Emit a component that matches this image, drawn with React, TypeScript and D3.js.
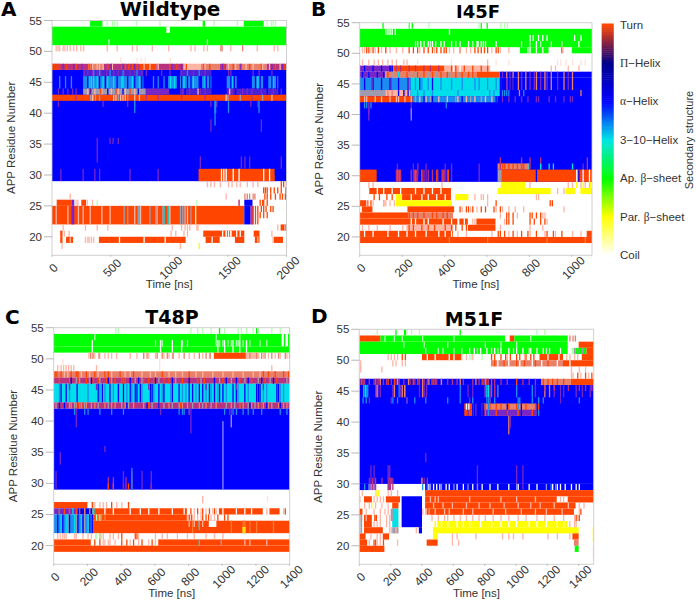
import React from "react";
import * as d3 from "d3";

type Run = [number, number, string, number, number];
type Spike = [number, number, string, number[]];

const stateLabels = ["Coil", "Par. β−sheet", "Ap. β−sheet", "3−10−Helix", "α−Helix", "Π−Helix", "Turn"];
const paletteStops = ["#ffffff", "#ffff00", "#00ff00", "#00e5e5", "#0000ff", "#00008b", "#ff4500"];
const stateColors: Record<string, string> = {
  t: "#ff4500", p: "#ffb4a4", f: "#ffe2da", a: "#0000ff", l: "#1e8cf0", c: "#00e0ea",
  v: "#7828c8", m: "#b83080", s: "#e8806a", g: "#00ff00", q: "#b4ffb4", y: "#ffff00",
  e: "#a09cb0", w: "#ffffff", o: "#ff7a30", b: "#8a8aff", n: "#4a20d8",
};

const wtRuns: Run[] = [
  [51, 54, "g", 0, 2000], [53, 54, "w", 975, 1005],
  [54, 55, "g", 325, 430], [54, 55, "g", 1285, 1305], [54, 55, "g", 1635, 1805],
  [29, 47, "a", 0, 2000],
  [47, 48, "m", 0, 310], [47, 48, "s", 310, 440], [47, 48, "m", 440, 750], [47, 48, "t", 750, 890], [47, 48, "m", 890, 1130],
  [47, 48, "p", 1130, 1270], [47, 48, "s", 1270, 1430], [47, 48, "m", 1430, 1490], [47, 48, "s", 1490, 1830], [47, 48, "m", 1830, 2000],
  [46, 47, "n", 265, 780], [46, 47, "n", 1090, 1360],
  [42, 43, "t", 0, 2000],
  [44, 46, "l", 265, 780], [44, 46, "l", 990, 1065], [44, 46, "l", 1090, 1260], [44, 46, "l", 1280, 1360],
  [44, 46, "l", 1490, 1575], [44, 46, "l", 1705, 1800], [44, 46, "l", 1845, 1930],
  [43, 44, "e", 265, 800], [43, 44, "v", 800, 1000], [43, 44, "n", 1090, 1360], [43, 44, "n", 1490, 1930],
  [29, 31, "t", 1250, 1900], [30, 31, "a", 1900, 2000],
  [25, 26, "t", 40, 170], [25, 26, "v", 170, 190], [25, 26, "t", 250, 290], [25, 26, "a", 1640, 1710],
  [22, 25, "t", 0, 1640], [22, 25, "a", 1640, 1690], [22, 25, "v", 1690, 1720],
  [22, 25, "v", 165, 190], [20, 21, "t", 70, 90], [20, 21, "t", 1290, 1640], [20, 21, "t", 1720, 1770],
  [19, 20, "t", 70, 90], [19, 20, "t", 120, 180], [19, 20, "t", 400, 1140], [19, 20, "t", 1310, 1430], [19, 20, "t", 1560, 1640],
  [19, 20, "t", 1730, 1770], [19, 20, "t", 1890, 1970], [21, 22, "t", 1950, 2000],
  [18, 19, "y", 1250, 1262],
];
const wtSpikes: Spike[] = [
  [54, 55, "q", [465, 510, 525, 550, 715, 915, 1377, 1575, 1830, 1865, 1880, 1900]],
  [51, 52, "q", [480, 1320]], [50, 51, "p", [30, 45, 60, 90, 105, 125, 150, 180, 205, 240, 265, 465, 550, 680, 720, 850, 990, 1180, 1215, 1290, 1320, 1520, 1745, 1890, 1920]],
  [50, 51, "s", [1435, 1445, 1620]], [48, 49, "f", [580, 720, 755, 790, 1005]],
  [47, 48, "t", [0, 15, 30, 45, 60, 120, 200, 310, 330, 470, 590, 620, 650, 680, 720, 1000, 1060, 1140, 1290, 1340, 1460, 1540, 1610, 1680, 1780, 1900, 1980]],
  [47, 48, "p", [340, 380, 400, 430, 510, 780, 830, 900, 1120, 1170, 1200, 1240, 1300, 1500, 1560, 1650, 1710, 1790, 1850, 1940]],
  [47, 48, "v", [90, 180, 250, 500, 600, 700, 1020, 1100, 1450, 1600, 1870, 1960]],
  [46, 47, "v", [270, 300, 340, 380, 410, 460, 520, 560, 610, 660, 700, 760, 800, 930, 1000, 1100, 1200, 1300, 1500, 1520, 1710, 1760, 1870]],
  [46, 47, "l", [350, 400, 490, 600, 720, 1150, 1250]],
  [44, 46, "c", [310, 330, 350, 380, 430, 470, 520, 590, 600, 680, 740, 1005, 1040, 1120, 1200, 1300, 1530, 1750, 1880]],
  [44, 46, "a", [300, 400, 450, 550, 640, 700, 760, 1080, 1150, 1250, 1100, 1180, 1310, 1340, 1520, 1550, 1730, 1770, 1870, 1910]],
  [44, 46, "l", [60, 110, 160, 860, 900, 950]],
  [43, 44, "v", [50, 90, 130, 170, 200, 850, 930, 1110, 1170, 1260, 1300, 1500, 1530, 1620, 1660, 1700, 1780, 1880, 1950]],
  [43, 44, "p", [300, 360, 420, 500, 560, 620, 700, 1240, 1510]], [43, 44, "a", [320, 470, 600, 730, 1130, 1560, 1830]], [43, 44, "t", [330, 410, 540, 660]],
  [42, 43, "e", [325, 345, 365, 400, 520, 560, 640, 1480, 1495, 1600, 1790]],
  [42, 43, "p", [340, 520, 540, 580, 600, 620, 700, 740, 1480, 1870]], [42, 43, "m", [200, 800, 900, 1100, 1300, 1700]],
  [41, 42, "v", [50, 430, 640, 700, 1350, 1400, 1690, 1750]],
  [40, 42, "l", [700, 1385, 1390, 1500, 1760]], [38, 42, "l", [1385]], [37, 39, "v", [1350, 1780]],
  [35, 36, "v", [490, 515, 560]], [32, 36, "v", [380]],
  [31, 33, "v", [1260, 1610, 1640, 1680, 1950]], [29, 31, "v", [70, 260, 360, 400, 660, 900]],
  [29, 31, "w", [1440, 1460, 1480, 1540, 1590, 1800, 1850]],
  [28, 29, "p", [1320, 1350, 1380, 1430, 1500, 1530, 1570, 1600, 1660, 1710, 1750, 1990]], [28, 29, "t", [1950, 1970]],
  [27, 28, "t", [1800, 1815, 1830, 1860, 1890, 1920, 1950, 1990]],
  [26, 27, "t", [1810, 1830, 1860, 1900, 1940, 1960, 1985]], [26, 27, "s", [1640, 1660, 1680, 1710, 1725]], [26, 27, "p", [150, 1480]],
  [25, 26, "t", [1770, 1790, 1800, 1830]], [25, 26, "p", [200, 215, 295, 340, 1590]], [25, 26, "q", [380, 1230]], [25, 26, "m", [1590]],
  [24, 25, "t", [1780, 1800, 1820, 1860, 1880]], [23, 24, "t", [1770, 1800, 1830]], [22, 25, "t", [1700, 1730, 1750]],
  [22, 25, "p", [30, 130, 220, 260, 320, 420, 490, 700, 750, 890, 1000, 1130, 1150]],
  [22, 25, "e", [610, 640, 730, 740, 830, 880, 940, 1090, 1110, 1130, 1180]],
  [22, 25, "c", [740, 950, 985]], [22, 25, "q", [1220]],
  [21, 22, "p", [90, 280, 380, 470, 1020, 1100, 1130, 1150, 1170, 1230, 1240, 1920, 1980]],
  [20, 21, "p", [100, 140, 1010, 1050, 1120, 1150, 1480, 1520, 1870]], [20, 21, "w", [1450, 1480, 1500, 1520, 1570, 1600]],
  [19, 20, "p", [150, 280, 300, 310, 330, 350, 1750, 1880]], [19, 20, "w", [570, 780, 960, 1360, 1440]],
  [18, 19, "p", [80, 1090]],
];

const i45Runs: Run[] = [
  [51, 54, "g", 0, 1095], [50, 51, "g", 755, 890], [50, 51, "g", 1000, 1095],
  [47, 48, "v", 0, 160], [47, 48, "t", 160, 400], [47, 48, "p", 400, 615],
  [29, 46, "a", 0, 1095], [46, 47, "a", 660, 1095],
  [46, 47, "v", 0, 120], [46, 47, "s", 120, 550], [46, 47, "t", 550, 660],
  [44, 46, "l", 0, 240], [44, 46, "c", 240, 660],
  [43, 44, "e", 0, 120], [43, 44, "p", 120, 240], [43, 44, "c", 240, 660],
  [42, 43, "t", 0, 250], [42, 43, "l", 250, 650],
  [29, 31, "t", 0, 80], [31, 32, "s", 650, 800], [29, 31, "t", 670, 1010], [29, 31, "e", 650, 670], [29, 31, "t", 1010, 1095],
  [28, 29, "y", 665, 780], [27, 28, "y", 650, 900], [27, 28, "y", 970, 1015], [27, 28, "y", 1040, 1095],
  [27, 28, "t", 45, 430], [26, 27, "y", 170, 200], [26, 27, "t", 200, 430], [26, 27, "y", 450, 512],
  [25, 26, "t", 0, 30], [25, 26, "y", 170, 435],
  [24, 25, "t", 10, 60], [24, 25, "t", 225, 445], [23, 24, "t", 0, 230], [23, 24, "s", 230, 440],
  [22, 23, "t", 0, 460], [22, 23, "t", 470, 510], [22, 23, "t", 550, 640], [21, 22, "t", 510, 640], [21, 22, "p", 220, 440],
  [20, 21, "t", 0, 440], [20, 21, "t", 1070, 1095], [19, 20, "t", 0, 1095],
];
const i45Spikes: Spike[] = [
  [54, 55, "g", [107, 230, 245, 570, 598]], [54, 55, "q", [228, 323, 560, 662, 680, 693]],
  [53, 54, "w", [120, 130, 140, 150, 165, 420]], [52, 53, "w", [800, 815, 840, 860, 880, 1010, 1040]],
  [51, 52, "w", [270, 285, 300, 320, 340, 355, 380, 395, 430, 470, 510, 550, 555, 570, 580, 590, 640, 830, 1030]],
  [51, 52, "q", [260, 330, 450, 530, 760, 800, 850, 900, 950]],
  [50, 51, "t", [30, 40, 60, 85, 120, 230, 250, 270, 300, 320, 340, 360, 380, 395, 405, 470, 540, 555, 570, 585, 600, 640, 650, 950]],
  [50, 51, "p", [10, 20, 50, 70, 100, 140, 170, 200, 280, 350, 420, 440, 470, 500, 520, 620, 660, 700, 955]],
  [50, 51, "w", [790, 800, 830, 860]],
  [48, 49, "p", [10, 40, 65, 85, 105, 130, 150, 170, 205, 220, 600]], [48, 49, "f", [270, 430, 640, 700, 930, 945, 970, 1000, 1040, 1060]],
  [47, 48, "p", [900, 920, 980, 1030]], [47, 48, "a", [20, 60, 100, 140, 150]],
  [47, 48, "m", [170, 190, 230, 260, 300, 330, 370]], [47, 48, "w", [440, 470]], [47, 48, "t", [430, 450, 490, 530, 570, 600]],
  [46, 47, "a", [10, 40, 80, 110]], [46, 47, "t", [130, 180, 220, 270, 300, 340, 380, 410, 450, 480, 510, 530]], [46, 47, "c", [180, 260, 420]], [46, 47, "e", [150, 240, 320, 360, 460]],
  [44, 47, "s", [690, 720, 745, 780, 830, 870, 900, 960, 1000]], [44, 47, "v", [670, 705, 760, 800, 820, 850, 880, 930, 980]],
  [44, 46, "a", [20, 60, 100, 140, 180, 225, 280, 340]], [44, 46, "v", [55, 145, 225, 670, 690]],
  [44, 46, "l", [260, 290, 320, 380, 430, 480, 540, 560, 600, 640]], [44, 46, "a", [670, 680, 700, 720]],
  [43, 44, "s", [130, 150, 180, 210, 750, 1040]], [43, 44, "a", [180, 205, 225]], [43, 44, "l", [270, 300, 340, 460, 610, 630]], [43, 44, "l", [670, 680, 690, 700, 770]],
  [42, 43, "p", [20, 30, 70, 100, 140, 170, 180, 210, 240, 280, 310, 370, 410, 460, 500, 540, 590, 620]],
  [42, 43, "e", [260, 330, 450, 520, 570]], [42, 43, "v", [670, 700, 730, 760, 790, 830, 840, 890, 920, 960, 990, 1000]], [42, 43, "a", [300, 340, 480, 640]],
  [41, 42, "l", [20, 30, 50, 405]], [40, 42, "v", [40, 240]], [39, 42, "v", [40]], [39, 41, "b", [240]],
  [30, 32, "m", [270]], [29, 32, "v", [175, 250, 270, 310, 400, 430, 560, 1050]],
  [29, 31, "m", [170, 180, 190, 240, 255, 265, 290, 300, 320, 340, 365, 385, 395, 410, 415]], [29, 31, "t", [175, 185, 260, 290, 360, 390, 415]],
  [31, 33, "m", [660, 760, 800, 850, 1070]], [31, 32, "t", [670, 680, 700, 720, 740, 760, 770]], [31, 32, "c", [790, 850, 890, 910, 1000]],
  [29, 31, "w", [1020, 1050, 1080]], [29, 31, "a", [830, 1030]],
  [28, 29, "p", [40, 60, 385, 800, 980, 1000, 1040, 1060, 1080]], [28, 29, "y", [1020, 1050, 1085]],
  [27, 28, "w", [80, 110, 150, 190, 260, 300, 340, 380]], [27, 28, "p", [930, 960]],
  [26, 27, "t", [65, 90, 125, 150]], [26, 27, "w", [240, 290, 320, 360, 400]], [26, 27, "p", [540, 570, 580, 600, 830, 840]],
  [25, 26, "t", [35, 50, 110, 640, 895, 905]], [25, 26, "p", [30, 60, 110, 120, 140, 160, 600]],
  [24, 25, "t", [470, 500, 510, 530, 570, 590, 630, 660]], [24, 25, "p", [480, 520, 550, 640, 670, 700, 730, 770, 960]],
  [23, 24, "t", [230, 250, 270, 300, 340, 360, 390, 410, 690, 700, 720, 800, 810, 830, 850]], [23, 24, "p", [660, 740, 860, 870]],
  [22, 23, "w", [240, 260, 300, 320, 390, 430]], [22, 23, "t", [700, 690, 720, 800, 820, 850, 870]], [22, 23, "p", [530, 540, 680, 880]], [22, 23, "w", [490, 510]],
  [21, 22, "t", [230, 250, 290, 320, 350, 400, 430, 450, 480, 500]], [21, 22, "p", [10, 40, 80, 140, 200, 660, 800, 860]],
  [20, 21, "w", [20, 60, 130, 180, 220, 260, 310, 370, 400, 430]], [20, 21, "t", [650, 660, 680, 720, 760, 790, 830, 880, 910, 950]], [20, 21, "p", [460, 500, 620, 700, 740, 800, 870, 920, 1000, 1040]],
  [19, 20, "o", [420, 600, 880, 1060]],
];

const t48Runs: Run[] = [
  [51, 52, "g", 0, 1400], [52, 54, "g", 0, 1352],
  [50, 51, "t", 950, 1140], [50, 51, "p", 1140, 1220],
  [47, 48, "s", 0, 1400], [46, 47, "m", 0, 1400], [43, 46, "c", 0, 1400], [42, 43, "m", 0, 1400], [29, 42, "a", 0, 1400],
  [26, 27, "t", 0, 200],
  [25, 26, "v", 0, 140], [25, 26, "a", 140, 230], [25, 26, "t", 230, 790], [25, 26, "t", 980, 1240], [25, 26, "t", 1280, 1340],
  [22, 25, "l", 0, 230], [24, 25, "t", 230, 790], [22, 24, "t", 230, 1400], [23, 24, "w", 920, 965], [19, 20, "t", 0, 1400],
  [20, 21, "t", 0, 220], [20, 21, "t", 620, 1400],
];
const t48Spikes: Spike[] = [
  [54, 55, "q", [365, 380, 810, 850, 880, 930, 980, 1010, 1090, 1110, 1140, 1180, 1210, 1290, 1340, 1395]], [54, 55, "g", [980, 1200]],
  [53, 54, "q", [240, 960, 1100, 1370]], [52, 53, "q", [600, 640, 760, 790, 960, 980, 1000, 1030, 1050, 1080, 1090, 1120, 1140, 1160, 1220, 1260, 1370]],
  [51, 53, "w", [225, 630, 700, 755, 970, 1010, 1060, 1100, 1140]], [52, 54, "g", [1365, 1390]],
  [50, 51, "p", [205, 225, 240, 270, 300, 320, 340, 370, 450, 490, 530, 560, 600, 650, 680, 700, 740, 800, 830, 880, 920, 1240, 1270, 1310, 1340, 1380]],
  [50, 51, "s", [215, 230, 265, 530, 550, 610, 640, 670, 705, 770, 860, 900, 925, 1160, 1200, 1230, 1250, 1290, 1330, 1370, 1395]],
  [48, 49, "p", [20, 40, 55, 70, 85, 100, 115, 250, 1290]], [49, 50, "f", [50]], [48, 50, "f", [625]],
  [47, 48, "t", [5, 15, 40, 100, 130, 140, 190, 240, 300, 320, 390, 470, 640, 800, 1240, 1270, 1310, 1360, 1390]],
  [47, 48, "p", [60, 80, 160, 210, 260, 340, 420, 450, 520, 570, 600, 680, 720, 760, 840, 880, 940, 1000, 1060, 1120, 1180, 1220]],
  [46, 47, "t", [30, 90, 140, 190, 230, 260, 310, 330, 360, 400, 410, 420, 530, 560, 590, 650, 680, 760, 850, 890, 1000, 1100, 1170, 1250, 1320]],
  [46, 47, "e", [130, 150, 210, 270, 340, 480, 520, 620, 720, 870, 980, 1050, 1130, 1210, 1280, 1380, 1395]],
  [46, 47, "a", [100, 220, 320, 450, 500, 600, 700, 800, 950, 1020, 1080, 1150, 1230, 1300]],
  [43, 46, "a", [40, 70, 135, 260, 285, 330, 380, 410, 450, 480, 490, 510, 570, 580, 620, 650, 700, 740, 800, 820, 860, 880, 920, 950, 980, 1000, 1060, 1080, 1130, 1200, 1210, 1220, 1320, 1330]],
  [43, 46, "l", [30, 90, 200, 270, 300, 350, 430, 460, 520, 590, 640, 690, 760, 780, 840, 900, 930, 970, 1020, 1090, 1150, 1240, 1260, 1340, 1360]],
  [45, 46, "v", [90, 250, 560, 900, 1080, 1240]],
  [42, 43, "e", [10, 90, 120, 150, 180, 220, 260, 320, 400, 440, 530, 580, 650, 700, 740, 820, 880, 930, 1020, 1070, 1100, 1150, 1190, 1240, 1290, 1360, 1395]],
  [42, 43, "s", [100, 130, 160, 190, 240, 300, 340, 360, 420, 470, 560, 620, 680, 760, 790, 860, 900, 960, 1050, 1120, 1170, 1210, 1270, 1330, 1380]],
  [42, 43, "a", [30, 60, 430, 550, 620, 1160, 1260, 1340]], [42, 43, "t", [145, 170, 560, 750, 1100, 1230]],
  [41, 42, "l", [120, 180, 200, 270, 340, 410, 740, 760, 770, 800, 1010, 1060, 1080, 1120, 1150, 1180, 1230, 1340, 1380]], [41, 42, "v", [130, 630, 800, 1040]],
  [39, 42, "v", [130, 1050]], [38, 42, "v", [810]], [39, 41, "b", [1050]],
  [35, 36, "v", [300]], [33, 35, "v", [35]], [29, 40, "b", [1000]],
  [29, 31, "m", [320, 350, 425, 460]], [29, 30, "t", [320, 350, 410, 440, 575]], [29, 32, "v", [10, 410, 460, 520, 575]], [29, 32.5, "l", [460]],
  [27, 28, "f", [880, 1265]], [26.8, 28, "p", [880]],
  [26, 27, "p", [230, 240, 270, 290, 310, 370, 400, 440]], [26, 27, "t", [225, 340, 440]],
  [25, 26, "c", [30, 110, 230, 235]], [25, 26, "t", [30, 60, 90, 130, 150, 180, 810, 850, 880, 920, 950, 1370]], [25, 26, "s", [180, 210]],
  [25, 26, "w", [300, 350, 450, 510, 560, 620, 700, 770, 1000, 1080, 1130, 1170, 1350, 1390]], [25, 26, "p", [830, 870, 900, 940, 960, 1260, 1360]],
  [22, 25, "a", [20, 50, 90, 140, 170, 210, 225]], [22, 25, "c", [40, 70, 120, 160, 200]], [22, 25, "e", [80, 130, 180]],
  [24, 25, "p", [790, 810, 830, 850, 870, 930, 950]], [24, 25, "t", [800, 815, 880, 900, 915, 970, 1010, 1030]], [24, 25, "o", [260, 280, 300]], [24, 25, "q", [250, 270]],
  [23, 24, "p", [800, 830, 860, 880]], [22.5, 24, "c", [860]], [22, 24, "o", [820, 1050, 1120, 1130, 1160, 1200, 1300]], [22, 23, "y", [1120, 1130]],
  [21, 22, "p", [20, 35, 50, 60, 70, 120, 130, 170, 200, 220, 290, 330, 350, 380, 500, 600, 640, 670, 730, 790, 830, 900, 950, 1000]], [21, 22, "t", [270, 400, 480, 490]], [21, 22, "q", [245, 250, 270, 280]],
  [20, 21, "t", [240, 430, 470, 520, 580, 270, 400]], [20, 21, "p", [290, 300, 320, 330, 360, 450, 500, 560, 600, 1130, 1160, 1260]], [20, 21, "c", [860]], [20, 21, "e", [990]],
];

const m51Runs: Run[] = [
  [53, 54, "t", 0, 135], [53, 54, "g", 135, 930], [53, 54, "t", 960, 990], [53, 54, "g", 990, 1330],
  [51, 53, "g", 0, 1330], [52, 53, "t", 1400, 1496], [51, 52, "g", 1350, 1450], [51, 52, "t", 1450, 1496],
  [50, 51, "t", 400, 650], [50, 51, "t", 1150, 1300], [50, 51, "t", 1420, 1496], [49, 50, "t", 1300, 1496], [49, 50, "s", 840, 1300],
  [30, 46, "a", 0, 1496], [46, 47, "a", 0, 1160], [46, 47, "s", 1160, 1350], [46, 47, "t", 1350, 1496],
  [41, 43, "s", 780, 1130], [42, 43, "t", 670, 730], [41, 42, "t", 670, 730], [41, 42, "v", 780, 1130],
  [29, 30, "a", 420, 1496], [29, 30, "a", 0, 60],
  [28, 29, "t", 420, 1496], [27, 28, "t", 420, 1260], [27, 28, "t", 1330, 1496], [27, 28, "t", 30, 80], [27, 28, "t", 170, 260], [26, 27, "t", 210, 250], [26, 27, "t", 420, 1380],
  [25, 26, "t", 0, 20], [25, 26, "t", 450, 1370], [23, 26, "c", 210, 250], [24, 26, "e", 200, 215], [22, 23, "e", 210, 250],
  [23, 28, "a", 270, 400], [22, 23, "a", 380, 400],
  [24, 25, "t", 30, 80], [23, 24, "t", 30, 80], [22, 23, "t", 30, 150], [21, 22, "t", 0, 40], [21, 22, "t", 150, 190], [20, 21, "t", 0, 50], [19, 20, "t", 0, 160],
  [23, 24, "y", 480, 1330], [22, 23, "y", 470, 1400], [21, 22, "y", 470, 500], [20, 21, "t", 430, 500], [21, 22, "t", 1360, 1400], [20, 21, "s", 1370, 1400], [19, 20, "g", 1375, 1400],
];
const m51Spikes: Spike[] = [
  [54, 55, "g", [230, 285, 290, 640]], [54, 55, "q", [110, 300, 330, 380, 1130, 1180]],
  [53, 54, "s", [1340, 1360, 1375]], [53, 54, "q", [160, 220, 270, 400, 600, 1090]], [51, 53, "w", [1340, 1350, 1360, 1370]],
  [52, 53, "q", [280, 410, 560, 800, 900, 1000]],
  [51, 52, "w", [700, 730, 770, 810, 840, 860, 900, 950, 1000, 1040, 1090, 1130, 1170, 1210, 1280]], [51, 52, "q", [420, 500, 530, 600, 650, 750, 880, 980, 1080, 1190]], [51, 52, "e", [1370, 1390, 1420]],
  [50, 51, "p", [180, 200, 220, 240, 650, 680, 720, 840, 940, 1050, 1320, 1340, 1370, 1390]], [50, 51, "t", [270, 290, 840, 860, 900, 930, 960, 1000, 1020, 1060, 1090, 1110]], [50, 51, "w", [430, 480, 570, 600, 1200, 1270]], [50, 51, "q", [700, 710, 780]],
  [49, 50, "p", [210, 230, 270, 290]], [49, 50, "w", [880, 950, 1020, 1100, 1160, 1260, 1340]], [49, 50, "t", [860, 920, 1000, 1050, 1120, 1200]],
  [48, 49, "p", [5, 140, 1350, 1400, 1440]], [48.5, 50, "p", [5]], [47, 48, "t", [1390, 1440, 1480]], [47, 48, "p", [1350, 1360, 1410, 1460]],
  [46, 47, "m", [0, 30, 60, 90, 110, 120, 150, 170, 200, 230, 250, 280, 320, 350, 380, 410, 430, 470, 490, 520, 560, 590, 620, 660, 720, 760, 790, 820, 860, 900, 940, 1000, 1040, 1080, 1120]],
  [46, 47, "t", [10, 20, 100, 180, 220, 340, 370, 460, 480, 780, 810, 840, 1000, 1170, 1200, 1230, 1260, 1300]], [46, 47, "s", [130, 240, 310, 400, 440, 520, 640, 740, 800]],
  [44, 46, "v", [100, 105, 115, 130, 210, 260, 290, 380, 410, 425, 690, 720, 800, 860, 880, 1120, 1240, 1280, 1300, 1380, 1420, 1470]],
  [44, 46, "s", [110, 220, 270, 285, 400, 1180, 1210]], [45, 46, "m", [1180, 1240, 1330, 1400, 1440, 1480]],
  [44, 46, "c", [25, 35, 45, 810, 820]], [44, 46, "l", [50, 250, 640, 840, 880, 1000, 1100]],
  [44, 46, "m", [800, 830, 860]], [43, 44, "l", [20, 40, 210, 240, 300, 350, 420, 560, 640, 720, 810, 830, 860, 1020, 1100, 1140, 1170, 1400]], [41, 44, "l", [820, 1010, 1140]],
  [43, 44, "v", [60, 200, 300, 700, 830, 1280]],
  [41, 43, "a", [720, 780, 790, 940, 1030]], [42, 43, "t", [800, 830, 870, 900, 950, 1000, 1060, 1120, 1140]], [41, 43, "v", [690, 740]], [42, 43, "w", [680, 695]],
  [41, 42, "t", [800, 870, 940, 1010, 1100]], [38, 41, "s", [950]], [39, 41, "v", [960]], [33.5, 35, "v", [420]],
  [29, 33, "v", [70, 90, 180, 190, 750, 1000, 1040]], [29, 31, "m", [80, 100, 185, 195, 210]], [30, 31, "m", [140, 200, 395, 430]], [30, 31, "s", [395]],
  [29, 30, "w", [440, 470, 490, 510, 550, 570, 620, 660, 720, 780, 830, 880, 950, 1010, 1080, 1130, 1230, 1260, 1280, 1310, 1350, 1380, 1400]], [29, 30, "b", [450, 520, 600, 690, 750, 1000, 1190, 1250]],
  [29, 30, "l", [30, 60, 400, 430, 1220]], [30, 31, "v", [60, 410]],
  [28, 29, "p", [15, 100, 180, 200, 240]], [28, 29, "y", [100, 110, 120]],
  [27, 28, "p", [0, 90, 110, 130, 150]], [27, 28, "p", [450, 480, 500, 700, 900, 1000, 1120]], [27, 28, "p", [1280, 1300]],
  [26, 27, "p", [30, 60, 100, 140, 180, 1400, 1430]], [26, 27, "y", [75]], [26, 27, "p", [470, 530, 590, 680, 760, 830, 920, 1010, 1090, 1150, 1240, 1330]],
  [25, 26, "p", [40, 90, 130, 160, 180, 400, 420, 1400]], [25, 26, "p", [480, 540, 570, 660, 720, 850, 930, 1030, 1120, 1190, 1290]], [25, 26, "t", [430, 440, 1410]],
  [24, 25, "p", [10, 40, 100, 130, 170, 190, 460, 500, 560, 640, 720, 800, 900, 1010, 1130, 1240, 1300, 1370, 1390, 540, 600, 680, 760, 850, 950, 1060, 1180]], [24, 25, "t", [95, 105, 1400, 1380]],
  [23, 24, "p", [90, 110, 130, 170, 190, 1370]], [23, 24, "w", [490, 520, 560, 620, 660, 700, 770, 840, 900, 950, 1000, 1080, 1130, 1190, 1260, 1300]], [23, 24, "p", [1340, 1380]],
  [22, 23, "p", [190, 200, 230, 360]], [22, 23, "e", [0, 10]], [23, 25, "e", [0, 10]],
  [21, 22, "p", [70, 110, 130, 590, 620, 740, 910, 950, 980, 1040, 1200, 1260, 1340]], [20.6, 23, "y", [1490]],
  [20, 21, "t", [90, 100, 150]], [20, 21, "p", [60, 110, 130, 240, 590, 630]],
  [18, 20, "f", [1490]],
];

const xTicksWt = [0, 500, 1000, 1500, 2000];
const xTicksI45 = [0, 200, 400, 600, 800, 1000];
const xTicksT48 = [0, 200, 400, 600, 800, 1000, 1200, 1400];
const xTicksM51 = [0, 200, 400, 600, 800, 1000, 1200, 1400];
const yTicks = [20, 25, 30, 35, 40, 45, 50, 55];

const SANS = "'Liberation Sans', Arial, sans-serif";
const SERIF = "'Liberation Serif', serif";
const BOLD = "'DejaVu Sans', sans-serif";
const INK = "#333";

interface PanelSpec {
  id: string; letter: string; title: string; maxT: number; ticks: number[]; runs: Run[]; spikes: Spike[];
  left: number; right: number; top: number; bottom: number;
  letterX: number; letterY: number; titleX: number; titleY: number; titleSize: number;
}

const panels: PanelSpec[] = [
  { id: "a", letter: "A", title: "Wildtype", maxT: 2000, ticks: xTicksWt, runs: wtRuns, spikes: wtSpikes, left: 52, right: 286.5, top: 20.5, bottom: 255.3, letterX: 1, letterY: 16, titleX: 170, titleY: 15.5, titleSize: 20 },
  { id: "b", letter: "B", title: "I45F", maxT: 1095, ticks: xTicksI45, runs: i45Runs, spikes: i45Spikes, left: 359.7, right: 592, top: 22.7, bottom: 255.3, letterX: 311, letterY: 15.5, titleX: 478, titleY: 18, titleSize: 18 },
  { id: "c", letter: "C", title: "T48P", maxT: 1400, ticks: xTicksT48, runs: t48Runs, spikes: t48Spikes, left: 53.7, right: 289.7, top: 327.7, bottom: 564.3, letterX: 5, letterY: 324, titleX: 172, titleY: 324, titleSize: 19 },
  { id: "d", letter: "D", title: "M51F", maxT: 1496, ticks: xTicksM51, runs: m51Runs, spikes: m51Spikes, left: 359.3, right: 593.7, top: 329.3, bottom: 564.3, letterX: 311, letterY: 323, titleX: 474, titleY: 326, titleSize: 19 },
];

function Panel({ p }: { p: PanelSpec }) {
  const x = d3.scaleLinear().domain([0, p.maxT]).range([p.left, p.right]);
  const y = d3.scaleLinear().domain([55, 17]).range([p.top, p.bottom]);
  const spikeW = x.invert(p.left + 1.3);
  const midY = (p.top + p.bottom) / 2;
  const midX = (p.left + p.right) / 2;
  return (
    <g>
      <g clipPath={`url(#clip-${p.id})`}>
        <g filter="url(#soft)">
          <rect x={p.left - 3} y={p.top} width={p.right - p.left + 6} height={p.bottom - p.top} fill="#fff" />
          {p.runs.map((r, i) => (
            <rect key={i} x={x(r[3])} width={x(r[4]) - x(r[3])} y={y(r[1])} height={y(r[0]) - y(r[1])} fill={stateColors[r[2]]} />
          ))}
          {p.spikes.map((s, i) =>
            s[3].map((t, j) => (
              <rect key={`${i}-${j}`} x={x(t)} width={x(t + spikeW) - x(t)} y={y(s[1])} height={y(s[0]) - y(s[1])} fill={stateColors[s[2]]} />
            )),
          )}
        </g>
      </g>
      <path d={`M${p.left},${p.top}H${p.right}V${p.bottom}H${p.left}Z`} fill="none" stroke="#c4c4c4" strokeWidth={0.8} />
      {yTicks.map((v) => (
        <g key={v}>
          <line x1={p.left - 8} x2={p.left} y1={y(v)} y2={y(v)} stroke="#999" strokeWidth={0.7} />
          <text x={p.left - 10} y={y(v) + 4} textAnchor="end" fontFamily={SANS} fontSize={11.5} fill={INK}>{v}</text>
        </g>
      ))}
      {p.ticks.map((v) => (
        <g key={v}>
          <line x1={x(v)} x2={x(v)} y1={p.bottom} y2={p.bottom + 1.5} stroke="#999" strokeWidth={0.7} />
          <text transform={`translate(${x(v) + 1.5},${p.bottom + 12.5}) rotate(-45)`} textAnchor="middle" dy="0.35em" fontFamily={SANS} fontSize={12} fill={INK}>{v}</text>
        </g>
      ))}
      <text x={midX} y={p.bottom + 33} textAnchor="middle" fontFamily={SANS} fontSize={11.5} fill={INK}>Time [ns]</text>
      <text transform={`translate(${p.left - 37},${midY}) rotate(-90)`} textAnchor="middle" fontFamily={SANS} fontSize={11.5} fill={INK}>APP Residue Number</text>
      <text x={p.titleX} y={p.titleY} textAnchor="middle" fontFamily={BOLD} fontWeight="bold" fontSize={p.titleSize} fill="#000">{p.title}</text>
      <text x={p.letterX} y={p.letterY} fontFamily={BOLD} fontWeight="bold" fontSize={20} fill="#000">{p.letter}</text>
    </g>
  );
}

export default function App() {
  const barTop = 24.7, barBottom = 255, barLeft = 601.7, barRight = 613.7;
  const level = d3.scaleLinear().domain([0, stateLabels.length - 1]).range([barBottom, barTop]);
  const color = d3.scaleLinear<string>().domain(d3.range(paletteStops.length)).range(paletteStops).interpolate(d3.interpolateRgb);
  const steps = d3.range(0, 6.0001, 0.05);
  return (
    <svg width={696} height={600} style={{ position: "absolute", left: 0, top: 0, background: "#fff" }}>
      <defs>
        <filter id="soft" x="-3%" y="-3%" width="106%" height="106%"><feGaussianBlur stdDeviation="0.5 0.3" /></filter>
        {panels.map((p) => (
          <clipPath id={`clip-${p.id}`} key={p.id}><rect x={p.left} y={p.top} width={p.right - p.left} height={p.bottom - p.top} /></clipPath>
        ))}
      </defs>
      {panels.map((p) => <Panel key={p.id} p={p} />)}
      {steps.map((v) => (
        <rect key={v} x={barLeft} width={barRight - barLeft} y={level(v) - 1.2} height={2.4} fill={color(v)} />
      ))}
      {stateLabels.map((s, i) => (
        <text key={s} x={620} y={level(i) + 4} fontFamily={SANS} fontSize={11.5} fill={INK}>
          {s.split(/([αβΠ])/).map((part, j) => (
            <tspan key={j} fontFamily={/[αβΠ]/.test(part) ? SERIF : SANS}>{part}</tspan>
          ))}
        </text>
      ))}
      <text transform="translate(693,140) rotate(-90)" textAnchor="middle" fontFamily={SANS} fontSize={11} fill={INK}>Secondary structure</text>
    </svg>
  );
}
